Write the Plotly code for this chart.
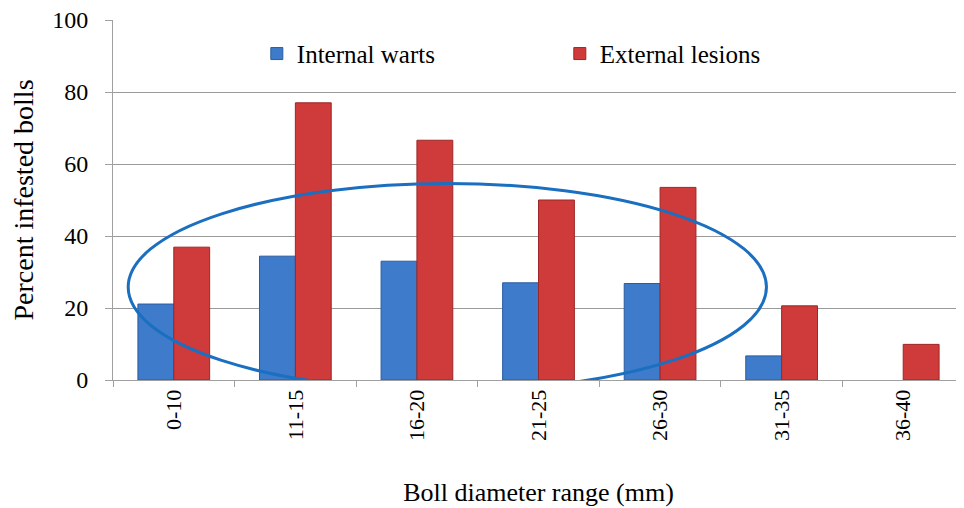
import plotly.graph_objects as go

# data
categories = ["0-10", "11-15", "16-20", "21-25", "26-30", "31-35", "36-40"]
internal_warts = [21.1, 34.4, 33.0, 27.0, 26.8, 6.7, 0]
external_lesions = [36.9, 77.0, 66.6, 50.0, 53.5, 20.6, 9.9]

# no outline on empty bars (avoids a stray line at zero)
warts_outline = [1 if v > 0 else 0 for v in internal_warts]

fig = go.Figure()
fig.add_trace(go.Bar(x=categories, y=internal_warts, name="Internal warts",
                     marker=dict(color="#3E7BCB", line=dict(color="#2A5C9E", width=warts_outline))))
fig.add_trace(go.Bar(x=categories, y=external_lesions, name="External lesions",
                     marker=dict(color="#CF3A3A", line=dict(color="#9E2626", width=1))))

# hand-drawn ellipse around the first five groups
fig.add_shape(type="circle", xref="x", yref="y", x0=-0.375, x1=4.875, y0=-3.0, y1=54.6,
              line=dict(color="#1A6FC0", width=3))

# page body has an 8px margin, so the figure is a bit smaller than the window
fig.update_layout(
    width=956, height=500,
    margin=dict(l=105, r=0, t=12, b=128),
    paper_bgcolor="white", plot_bgcolor="white",
    barmode="group", bargap=0.41, bargroupgap=0,
    font=dict(family="Liberation Serif, Times New Roman, serif", color="black"),
    showlegend=True,
    legend=dict(orientation="h", x=0.169, y=0.97, xanchor="left", yanchor="top",
                font=dict(size=25), entrywidth=258, entrywidthmode="pixels",
                itemwidth=30, bgcolor="rgba(0,0,0,0)"),
)
fig.update_xaxes(
    type="category", tickangle=-90, tickfont=dict(size=22), automargin=False,
    showline=True, linecolor="#A0A0A0", linewidth=1,
    ticks="outside", tickson="boundaries", ticklen=6, tickcolor="#A0A0A0",
    title=dict(text="Boll diameter range (mm)", font=dict(size=26), standoff=42),
)
fig.update_yaxes(
    range=[0, 100], dtick=20, tickfont=dict(size=24), automargin=False,
    showgrid=True, gridcolor="#9A9A9A", gridwidth=1,
    showline=True, linecolor="#A0A0A0", linewidth=1,
    ticks="outside", ticklen=7, tickcolor="#A0A0A0", ticklabelstandoff=12,
    ticklabeloverflow="allow",
    zeroline=False,
    title=dict(text="Percent infested bolls", font=dict(size=28), standoff=26),
)

fig.write_html("out.html")
